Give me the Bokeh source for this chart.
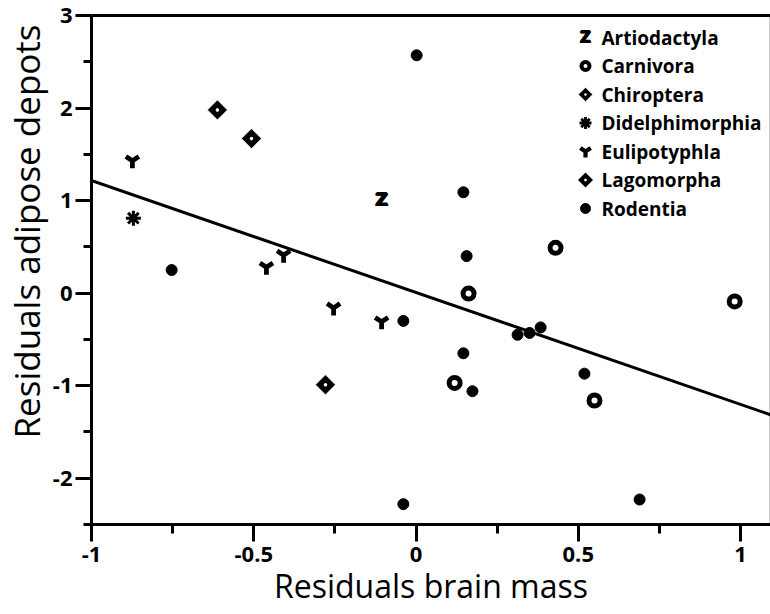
import math
from bokeh.plotting import figure
from bokeh.models import (LinearAxis, FixedTicker, CustomJSTickFormatter, Slope, Range1d, Title)
from bokeh.core.properties import value
from bokeh.embed import file_html
from bokeh.resources import INLINE

# ---------------- data ----------------
artio_x = [-0.106]
artio_y = [1.01]

carn_x = [0.430, 0.162, 0.982, 0.119, 0.550]
carn_y = [0.49, -0.005, -0.09, -0.97, -1.16]

chiro_x = [-0.612, -0.507]
chiro_y = [1.98, 1.67]

didel_x = [-0.871]
didel_y = [0.81]

euli_x = [-0.874, -0.461, -0.408, -0.254, -0.106]
euli_y = [1.43, 0.28, 0.41, -0.16, -0.31]

lago_x = [-0.279]
lago_y = [-0.99]

rod_x = [-0.753, 0.002, 0.146, 0.156, -0.039, 0.313, 0.350, 0.384, 0.146, 0.174, 0.519, 0.689, -0.039]
rod_y = [0.25, 2.57, 1.09, 0.40, -0.30, -0.45, -0.43, -0.37, -0.65, -1.06, -0.87, -2.23, -2.28]

categories = ["Artiodactyla", "Carnivora", "Chiroptera", "Didelphimorphia",
              "Eulipotyphla", "Lagomorpha", "Rodentia"]

fit_slope = -1.209
fit_intercept = 0.007

x_ticks = [-1, -0.5, 0, 0.5, 1]
x_minor = [-0.75, -0.25, 0.25, 0.75]
y_ticks = [-2, -1, 0, 1, 2, 3]
y_minor = [-2.5, -1.5, -0.5, 0.5, 1.5, 2.5]

x_title = "Residuals brain mass"
y_title = "Residuals adipose depots"

# ---------------- layout / style ----------------
FONT = "Open Sans"
W, H = 770, 614
LEFT, RIGHT, TOP, BOTTOM = 91, 0, 15, 90
FRAME_W = W - LEFT - RIGHT
FRAME_H = H - TOP - BOTTOM

p = figure(width=W, height=H, output_backend="svg", toolbar_location=None,
           x_range=Range1d(-1, 1.0924), y_range=Range1d(-2.5, 3),
           min_border_left=LEFT, min_border_right=RIGHT, min_border_top=TOP,
           min_border_bottom=BOTTOM, x_axis_location=None, y_axis_location=None)
p.xgrid.visible = False
p.ygrid.visible = False
p.outline_line_color = "#cccccc"
p.outline_line_width = 1
p.background_fill_color = "white"
p.border_fill_color = "white"
# pixel-space ranges for the legend block
p.extra_x_ranges = {"lx": Range1d(0, FRAME_W)}
p.extra_y_ranges = {"ly": Range1d(0, FRAME_H)}


def style_axis(ax, tick_out, minor_out):
    ax.axis_line_width = 3
    ax.axis_line_color = "black"
    ax.major_tick_line_width = 3
    ax.minor_tick_line_width = 3
    ax.major_tick_in = 0
    ax.minor_tick_in = 0
    ax.major_tick_out = tick_out
    ax.minor_tick_out = minor_out
    ax.major_label_text_font = FONT
    ax.major_label_text_font_size = "22px"
    ax.major_label_text_font_style = "bold"
    ax.major_label_text_color = "black"
    ax.axis_label_text_font = FONT
    ax.axis_label_text_font_size = "32px"
    ax.axis_label_text_font_style = "normal"
    ax.axis_label_text_color = "black"


xaxis = LinearAxis(ticker=FixedTicker(ticks=x_ticks, minor_ticks=x_minor),
                   formatter=CustomJSTickFormatter(code="return tick.toString()"),
                   axis_label=x_title)
style_axis(xaxis, 17, 9)
xaxis.major_label_standoff = 5
xaxis.axis_label_standoff = -1
p.add_layout(xaxis, "below")

yaxis = LinearAxis(ticker=FixedTicker(ticks=y_ticks, minor_ticks=y_minor),
                   formatter=CustomJSTickFormatter(code="return tick.toString()"))
style_axis(yaxis, 16, 8)
yaxis.major_label_standoff = 3
p.add_layout(yaxis, "left")

ytitle = Title(text=y_title, align="right", offset=9, standoff=0,
               text_font=FONT, text_font_size="35px", text_font_style="normal",
               text_color="black")
p.add_layout(ytitle, "left")

top = LinearAxis(ticker=FixedTicker(ticks=[]), axis_line_width=3, axis_line_color="black",
                 major_tick_out=0, minor_tick_out=0, major_label_standoff=0,
                 major_label_text_font_size="0px")
p.add_layout(top, "above")

fit = Slope(gradient=fit_slope, y_intercept=fit_intercept, line_color="black", line_width=3,
            level="underlay")
p.add_layout(fit)

# heavy "Z" symbol drawn as a slightly smeared bold glyph
Z_SMEAR = [(-1.0, 0.0), (1.0, 0.0), (0.0, -0.6), (0.0, 0.6), (0.0, 0.0)]

# ---------------- data marks ----------------
for dx, dy in Z_SMEAR:
    p.text(x=artio_x, y=artio_y, text=["Z"] * len(artio_x), text_font=value("DejaVu Sans"),
           text_font_style="bold", text_font_size="17px", text_align="center",
           text_baseline="middle", text_color="black", x_offset=dx, y_offset=dy)
p.scatter(carn_x, carn_y, marker="circle", size=11, fill_color="white",
          line_color="black", line_width=5)
p.scatter(chiro_x, chiro_y, marker="square_dot", size=14, angle=math.pi / 4,
          fill_color="black", line_color="white", line_width=0.5)
p.scatter(didel_x, didel_y, marker="asterisk", size=15, line_color="black", line_width=3)
p.scatter(euli_x, euli_y, marker="y", size=15, line_color="black", line_width=4.8)
p.scatter(lago_x, lago_y, marker="square_dot", size=14, angle=math.pi / 4,
          fill_color="black", line_color="white", line_width=0.5)
p.scatter(rod_x, rod_y, marker="circle", size=11, fill_color="black",
          line_color="black", line_width=1)

# ---------------- legend (drawn in frame pixel space) ----------------
LG_X, LG_TX, LG_TOP, LG_STEP = 494, 510, 22, 28.5
row_y = [FRAME_H - (LG_TOP + i * LG_STEP) for i in range(len(categories))]
lk = dict(x_range_name="lx", y_range_name="ly")

for dx, dy in Z_SMEAR:
    p.text(x=[LG_X], y=[row_y[0]], text=["Z"], text_font=value("DejaVu Sans"),
           text_font_style="bold", text_font_size="15px", text_align="center",
           text_baseline="middle", text_color="black", x_offset=dx * 0.8, y_offset=dy,
           **lk)
p.scatter([LG_X], [row_y[1]], marker="circle", size=8, fill_color="white",
          line_color="black", line_width=4, **lk)
p.scatter([LG_X], [row_y[2]], marker="square_dot", size=10, angle=math.pi / 4,
          fill_color="black", line_color="white", line_width=0.5, **lk)
p.scatter([LG_X], [row_y[3]], marker="asterisk", size=12, line_color="black",
          line_width=2.8, **lk)
p.scatter([LG_X], [row_y[4]], marker="y", size=12, line_color="black", line_width=4.2, **lk)
p.scatter([LG_X], [row_y[5]], marker="square_dot", size=11, angle=math.pi / 4,
          fill_color="black", line_color="white", line_width=0.5, **lk)
p.scatter([LG_X], [row_y[6]], marker="circle", size=10, fill_color="black",
          line_color="black", line_width=1, **lk)

p.text(x=[LG_TX] * len(categories), y=row_y, text=categories, text_font=value(FONT),
       text_font_style="bold", text_font_size="19px", text_align="left",
       text_baseline="middle", text_color="black", **lk)

open("out.html", "w").write(file_html(p, INLINE))
